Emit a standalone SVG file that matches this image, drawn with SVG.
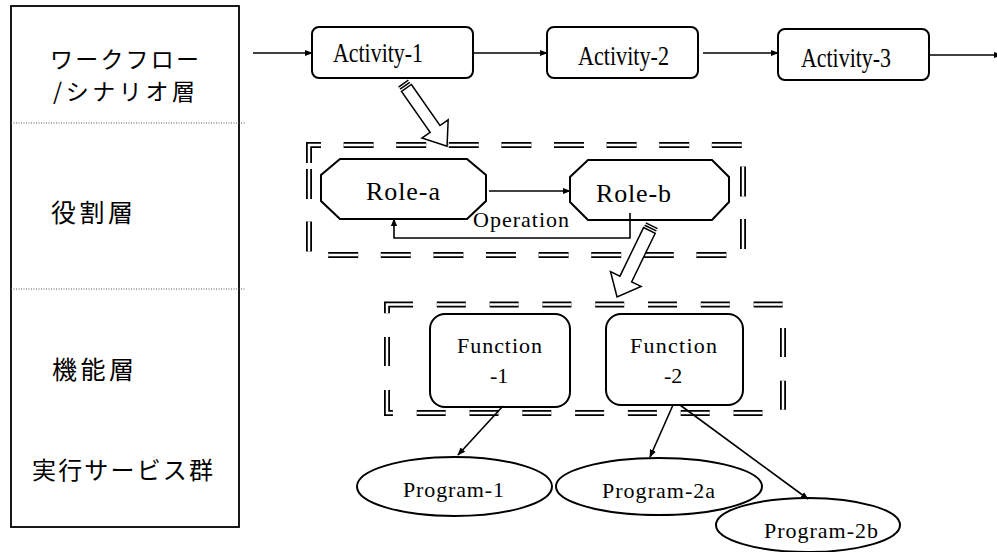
<svg xmlns="http://www.w3.org/2000/svg" width="997" height="552" viewBox="0 0 997 552">
<style>
.jp{font-family:"Noto Sans CJK JP","Noto Sans",sans-serif;fill:#000}
.en{font-family:"Liberation Serif","Times New Roman","DejaVu Serif",serif;fill:#000}
.node{fill:#fff;stroke:#000;stroke-width:2}
.ln{fill:none;stroke:#000;stroke-width:1.6}
.dot{fill:none;stroke:#555;stroke-width:1;stroke-dasharray:1 1.5}
.dblo{fill:none;stroke:#000;stroke-width:6;stroke-linejoin:miter}
.dbli{fill:none;stroke:#fff;stroke-width:2.4;stroke-linejoin:miter}
.blk{fill:#fff;stroke:#000;stroke-width:1.5;stroke-linejoin:miter}
</style>
<defs>
<marker id="ah" viewBox="0 0 10 10" refX="9" refY="5" markerWidth="8" markerHeight="8" markerUnits="userSpaceOnUse" orient="auto">
<path d="M0,1 L10,5 L0,9 Z" fill="#000"/>
</marker>
</defs>
<rect width="997" height="552" fill="#fff"/>

<g id="layers">
<rect x="11" y="6" width="228" height="521" fill="none" stroke="#000" stroke-width="1.8"/>
<line class="dot" x1="11" y1="123" x2="245" y2="123"/>
<line class="dot" x1="11" y1="289" x2="245" y2="289"/>
<text class="jp" x="50" y="68" font-size="23" textLength="149" lengthAdjust="spacing">ワークフロー</text>
<text class="jp" x="53" y="100" font-size="23" textLength="142" lengthAdjust="spacing">/シナリオ層</text>
<text class="jp" x="51" y="222" font-size="25" textLength="82" lengthAdjust="spacing">役割層</text>
<text class="jp" x="52" y="379" font-size="25" textLength="82" lengthAdjust="spacing">機能層</text>
<text class="jp" x="32" y="479" font-size="24" textLength="181" lengthAdjust="spacing">実行サービス群</text>
</g>

<g id="group-roles">
<path class="dblo" d="M309,163 V145 H743 V255 H309 Z" stroke-dasharray="30 22.6"/>
<path class="dbli" d="M309,163 V145 H743 V255 H309 Z" stroke-dasharray="30 22.6"/>
</g>
<g id="group-functions">
<path class="dblo" d="M387,307.5 V304.5 H783 V413 H387 Z" stroke-dasharray="29 23.8"/>
<path class="dbli" d="M387,307.5 V304.5 H783 V413 H387 Z" stroke-dasharray="29 23.8"/>
</g>

<g id="activity-1">
<rect class="node" x="312" y="27" width="161" height="51" rx="7"/>
<text class="en" x="333" y="62" font-size="27" textLength="90" lengthAdjust="spacingAndGlyphs">Activity-1</text>
</g>
<g id="activity-2">
<rect class="node" x="547" y="27" width="151" height="51" rx="7"/>
<text class="en" x="578" y="65" font-size="27" textLength="91" lengthAdjust="spacingAndGlyphs">Activity-2</text>
</g>
<g id="activity-3">
<rect class="node" x="778" y="29" width="151" height="51" rx="7"/>
<text class="en" x="801" y="67" font-size="27" textLength="90" lengthAdjust="spacingAndGlyphs">Activity-3</text>
</g>

<g id="role-a">
<polygon class="node" points="340,159 467,159 486,175 486,201 467,219 340,219 321,201 321,175"/>
<text class="en" x="366" y="200" font-size="26" textLength="74" lengthAdjust="spacing">Role-a</text>
</g>
<g id="role-b">
<polygon class="node" points="588,160 712,160 729,177 729,202 712,220 588,220 570,202 570,177"/>
<text class="en" x="596" y="202" font-size="26" textLength="75" lengthAdjust="spacing">Role-b</text>
</g>

<g id="function-1">
<rect class="node" x="430" y="314" width="140" height="93" rx="15"/>
<text class="en" x="457" y="353" font-size="22" textLength="85" lengthAdjust="spacing">Function</text>
<text class="en" x="490" y="383" font-size="22">-1</text>
</g>
<g id="function-2">
<rect class="node" x="606" y="314" width="137" height="91" rx="15"/>
<text class="en" x="630" y="353" font-size="22" textLength="87" lengthAdjust="spacing">Function</text>
<text class="en" x="664" y="383" font-size="22">-2</text>
</g>

<g id="program-1">
<ellipse class="node" cx="454.5" cy="486.5" rx="97.5" ry="29.5"/>
<text class="en" x="403" y="497" font-size="22" textLength="101" lengthAdjust="spacing">Program-1</text>
</g>
<g id="program-2a">
<ellipse class="node" cx="659" cy="486.5" rx="103" ry="28.5"/>
<text class="en" x="602" y="498" font-size="22" textLength="113" lengthAdjust="spacing">Program-2a</text>
</g>
<g id="program-2b">
<ellipse class="node" cx="808" cy="525" rx="92" ry="27"/>
<text class="en" x="764" y="538" font-size="22" textLength="114" lengthAdjust="spacing">Program-2b</text>
</g>

<g id="connectors">
<line class="ln" x1="253" y1="53" x2="312" y2="53" marker-end="url(#ah)"/>
<line class="ln" x1="473" y1="53" x2="547" y2="53" marker-end="url(#ah)"/>
<line class="ln" x1="703" y1="53" x2="778" y2="53" marker-end="url(#ah)"/>
<line class="ln" x1="929" y1="55" x2="1001" y2="55" marker-end="url(#ah)"/>
<line class="ln" x1="489" y1="191" x2="570" y2="191" marker-end="url(#ah)"/>
<polyline class="ln" points="630,213 630,238 394,238 394,219" marker-end="url(#ah)"/>
<text class="en" x="473" y="227" font-size="22" textLength="96" lengthAdjust="spacing">Operation</text>
<line class="ln" x1="503" y1="406" x2="458" y2="455" marker-end="url(#ah)"/>
<line class="ln" x1="673" y1="405" x2="650" y2="457" marker-end="url(#ah)"/>
<line class="ln" x1="680" y1="405" x2="808" y2="499" marker-end="url(#ah)"/>
<g transform="translate(403,83) rotate(55.1)">
<polygon class="blk" points="6,-6 56,-6 56,-16 77,0 56,16 56,6 6,6"/>
<line x1="0.8" y1="-6" x2="0.8" y2="6" stroke="#000" stroke-width="1.5"/>
<line x1="3.4" y1="-6" x2="3.4" y2="6" stroke="#000" stroke-width="1.5"/>
</g>
<g transform="translate(652,225) rotate(115.9)">
<polygon class="blk" points="6,-6.5 60,-6.5 60,-17 80,0 60,17 60,6.5 6,6.5"/>
<line x1="0.8" y1="-6.5" x2="0.8" y2="6.5" stroke="#000" stroke-width="1.5"/>
<line x1="3.4" y1="-6.5" x2="3.4" y2="6.5" stroke="#000" stroke-width="1.5"/>
</g>
</g>
</svg>
